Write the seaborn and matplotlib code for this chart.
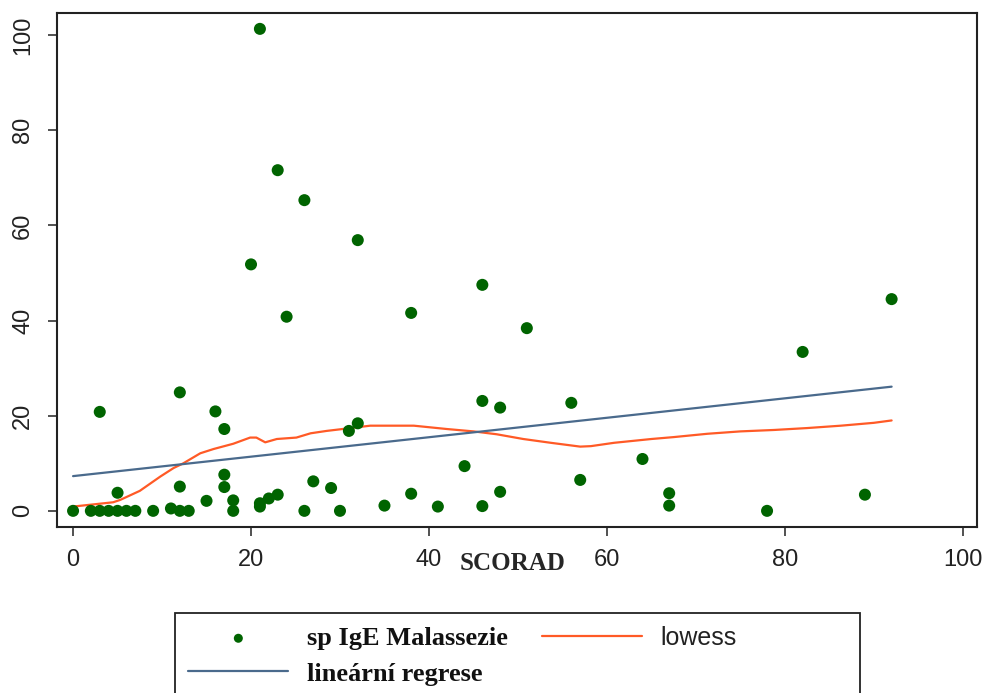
import matplotlib
matplotlib.use("Agg")
import matplotlib.pyplot as plt
from matplotlib.patches import Rectangle
import seaborn as sns
import pandas as pd

# SCORAD vs specific IgE Malassezia
scorad = [0, 2, 3, 3, 4, 5, 5, 6, 7, 9, 11, 12, 12, 12, 13, 15, 16, 17, 17, 17,
          18, 18, 20, 21, 21, 21, 22, 23, 23, 24, 26, 26, 27, 29, 30, 31, 32, 32,
          35, 38, 38, 41, 44, 46, 46, 46, 48, 48, 51, 56, 57, 64, 67, 67, 78, 82,
          89, 92]
ige = [0, 0, 20.8, 0, 0, 3.8, 0, 0, 0, 0, 0.5, 24.9, 5.1, 0, 0, 2.1, 20.9, 17.2,
       7.6, 5.0, 2.2, 0, 51.8, 101.3, 1.6, 0.9, 2.6, 71.6, 3.4, 40.8, 65.3, 0, 6.2,
       4.8, 0, 16.8, 18.4, 56.9, 1.1, 41.6, 3.6, 0.9, 9.4, 47.5, 23.1, 1.0, 21.7,
       4.0, 38.4, 22.7, 6.5, 10.9, 3.7, 1.1, 0, 33.4, 3.4, 44.5]

# lowess curve as drawn
lowess_x = [0, 4.5, 5.3, 7.5, 9.8, 11.3, 12.4, 14.3, 15.8, 18, 19.9, 20.6, 21.6,
            22.9, 25.1, 26.7, 28.5, 31.2, 33.4, 36.4, 38.3, 42, 45, 47.6, 50.6,
            53.7, 57, 58.2, 60.8, 65, 67.5, 71.3, 75, 78.8, 82.5, 86.3, 90, 92]
lowess_y = [0.9, 1.8, 2.3, 4.2, 7.2, 9.0, 10.0, 12.1, 13.0, 14.1, 15.4, 15.4, 14.4,
            15.1, 15.4, 16.3, 16.8, 17.4, 17.9, 17.9, 17.9, 17.2, 16.7, 16.1, 15.1,
            14.3, 13.5, 13.6, 14.3, 15.1, 15.5, 16.2, 16.7, 17.0, 17.4, 17.9, 18.5,
            19.0]

# linear regression line (end points)
reg_x = [0, 92]
reg_y = [7.3, 26.1]

x_ticks = [0, 20, 40, 60, 80, 100]
y_ticks = [0, 20, 40, 60, 80, 100]

sns.set_theme(style="ticks")
plt.rcParams["font.family"] = ["Liberation Sans", "DejaVu Sans"]

df = pd.DataFrame({"SCORAD": scorad, "IgE": ige})
df_low = pd.DataFrame({"x": lowess_x, "y": lowess_y})
df_reg = pd.DataFrame({"x": reg_x, "y": reg_y})

fig = plt.figure(figsize=(9.87, 6.93), dpi=100)
ax = fig.add_axes([0.0578, 0.2395, 0.9321, 0.7415])

sns.scatterplot(data=df, x="SCORAD", y="IgE", ax=ax, color="#006400", s=75,
                edgecolor="none", marker="o", label="sp IgE Malassezie", zorder=3)
sns.lineplot(data=df_low, x="x", y="y", ax=ax, color="#ff5a26", linewidth=1.6,
             label="lowess", zorder=2)
sns.lineplot(data=df_reg, x="x", y="y", ax=ax, color="#4a6a8c", linewidth=1.6,
             label="lineární regrese", zorder=2)

ax.set_xlim(-1.8, 101.6)
ax.set_ylim(-3.4, 104.6)
ax.set_xticks(x_ticks)
ax.set_yticks(y_ticks)
ax.set_ylabel("")

for sp in ax.spines.values():
    sp.set_visible(True)
    sp.set_linewidth(1.5)
    sp.set_color("#222222")

ax.tick_params(axis="both", direction="out", length=6.5, width=1.1,
               color="#222222", labelsize=17, labelcolor="#222222")
ax.tick_params(axis="x", pad=9)
ax.tick_params(axis="y", pad=10)
for lbl in ax.get_yticklabels():
    lbl.set_rotation(90)
    lbl.set_va("center")

ax.set_xlabel("SCORAD", fontsize=18, fontweight="bold",
              family=["Liberation Serif", "DejaVu Serif"])
ax.xaxis.set_label_coords(0.4946, -0.048)

# legend: entries without frame, box drawn separately (wider than the entries)
handles, labels = ax.get_legend_handles_labels()
ax.get_legend().remove()
order = [0, 2, 1]
top = 1 - 613 / 693
leg = fig.legend([handles[i] for i in order], [labels[i] for i in order],
                 ncol=2, loc="upper left", bbox_to_anchor=(175 / 987, top),
                 borderaxespad=0, frameon=False, handlelength=3.8,
                 handletextpad=0.7, borderpad=0.5, labelspacing=0.45,
                 columnspacing=1.3, markerscale=0.75,
                 prop={"family": ["Liberation Serif", "DejaVu Serif"],
                       "weight": "bold", "size": 19})
for t in leg.get_texts():
    t.set_color("#111111")
    if t.get_text() == "lowess":
        t.set_fontfamily(["Liberation Sans", "DejaVu Sans"])
        t.set_fontweight("normal")
        t.set_fontsize(18)
        t.set_color("#222222")

fig.add_artist(Rectangle((175 / 987, -0.05), 685 / 987, top + 0.05,
                         transform=fig.transFigure, fill=False,
                         edgecolor="#222222", linewidth=1.3))

fig.savefig("out.png", dpi=100)
